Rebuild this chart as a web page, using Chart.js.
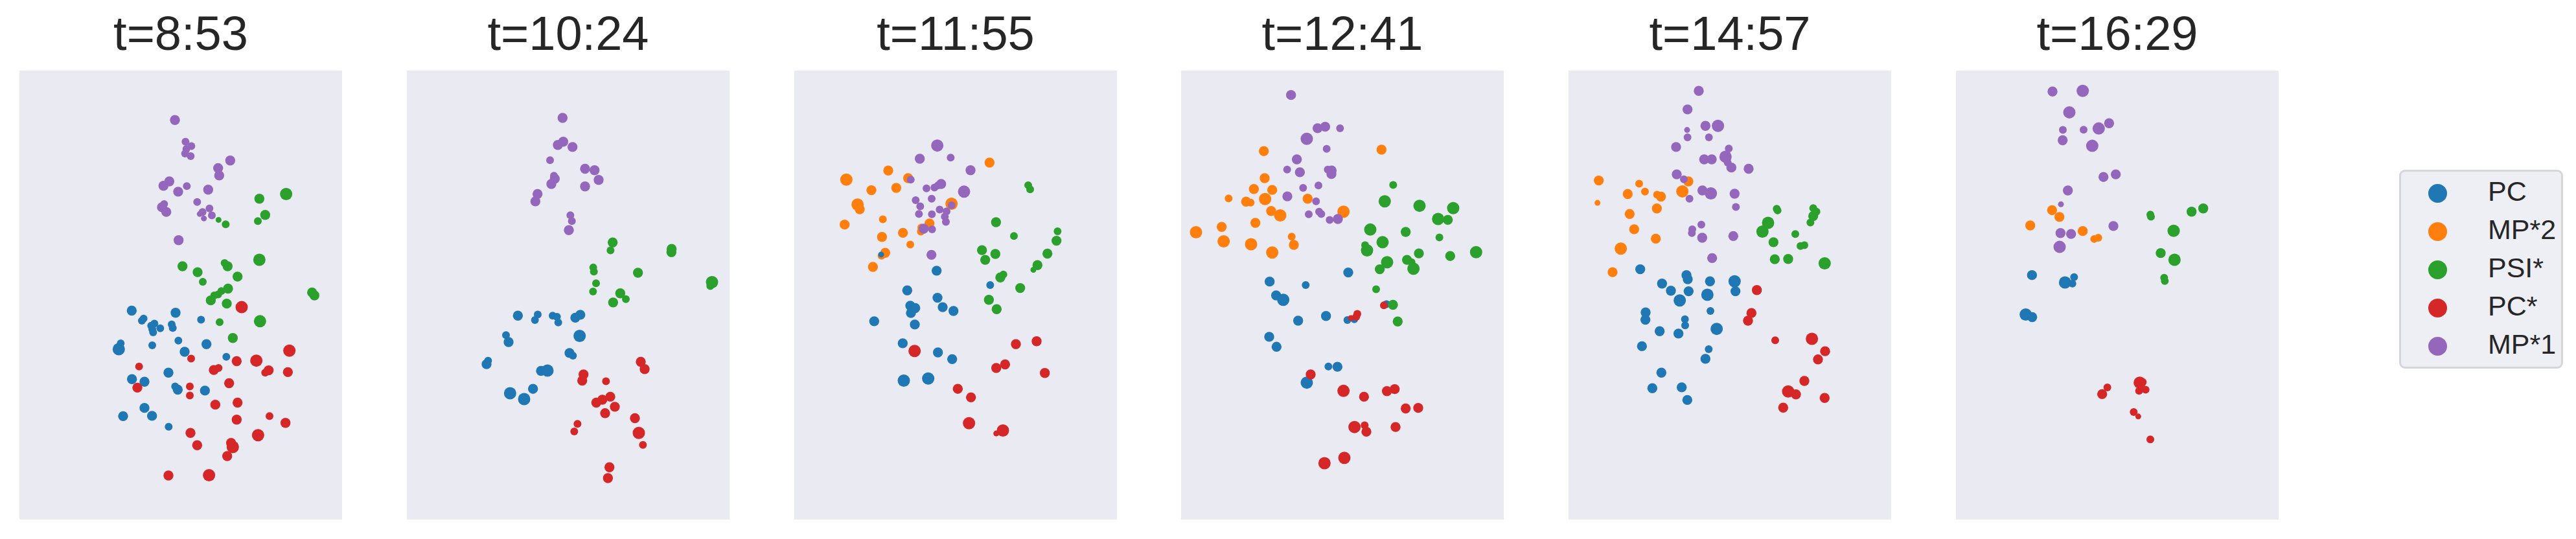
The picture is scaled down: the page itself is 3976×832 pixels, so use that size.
<!DOCTYPE html>
<html>
<head>
<meta charset="utf-8">
<script src="https://cdn.jsdelivr.net/npm/chart.js@4/dist/chart.umd.min.js"></script>
<style>
  html, body { margin: 0; padding: 0; background: #fff; }
  body { width: 3976px; height: 832px; position: relative; overflow: hidden; font-family: "Liberation Sans", Arial, sans-serif; }
  canvas.panel { position: absolute; top: 0; }
  #legend { position: absolute; left: 3703px; top: 262px; width: 247px; height: 301px;
            background: rgba(234, 234, 242, 0.8); border: 3px solid #d6d6d6; border-radius: 9px; }
  .lg-dot { position: absolute; width: 29px; height: 29px; border-radius: 50%; }
  .lg-txt { position: absolute; font-size: 43px; line-height: 43px; color: #262626; white-space: nowrap; }
</style>
</head>
<body>
<div id="legend"></div>
<script>
(() => {
  'use strict';

  // ---- data: embedding coordinates [x, y, weight] ----
  const TIMES = ['t=8:53', 't=10:24', 't=11:55', 't=12:41', 't=14:57', 't=16:29'];
  const SERIES = ['PC', 'MP*2', 'PSI*', 'PC*', 'MP*1'];

  // per-snapshot x extent (y extent is shared)
  const X_LIMITS = [[30, 1524], [39, 1533], [48, 1542], [39, 1533], [48, 1542], [57, 1551]];
  const Y_LIMITS = [20, 1548];

  // t=8:53
  const pc_0853 = [[550,837,3],[753,844,3],[605,864,2],[597,871,2],[871,868,2],[655,881,2],[640,888,2],[735,884,2],[682,897,2],[740,896,2],[645,900,2],[649,911,2],[896,951,3],[766,939,2],[645,955,2],[499,948,2],[490,968,4],[795,977,3],[988,994,2],[720,1048,3],[551,1070,3],[609,1079,3],[751,1095,2],[763,1106,3],[889,1109,3],[609,1168,3],[510,1196,3],[644,1195,3],[721,1232,2]];
  const mp2_0853 = [];
  const psi_0853 = [[1265,440,4],[1141,456,3],[1168,511,3],[1134,532,2],[952,528,1],[985,543,2],[1141,664,4],[980,675,2],[994,686,3],[785,686,3],[855,706,3],[1040,721,3],[879,739,2],[996,762,3],[965,770,2],[950,782,2],[932,785,2],[916,802,3],[990,813,3],[1385,775,3],[1396,785,3],[1144,873,4],[957,876,2],[1018,930,3]];
  const pcs_0853 = [[1059,825,4],[1280,973,4],[1127,1007,4],[1036,1009,3],[825,1000,2],[584,1027,2],[930,1039,3],[952,1032,2],[1168,1048,2],[1184,1040,3],[1273,1046,3],[1001,1084,3],[576,1099,3],[819,1095,2],[819,1126,2],[937,1157,3],[1040,1150,3],[1188,1196,2],[1036,1208,3],[1262,1219,3],[822,1253,3],[1135,1261,4],[853,1295,3],[1010,1287,3],[1018,1301,4],[992,1332,3],[720,1398,3],[908,1397,4]];
  const mp1_0853 = [[750,188,3],[799,262,2],[826,277,2],[803,287,2],[797,302,2],[823,311,2],[1006,326,3],[950,352,3],[955,377,3],[724,397,3],[697,412,3],[765,432,3],[805,413,2],[904,425,3],[853,467,2],[700,474,2],[690,485,3],[710,501,3],[910,489,2],[878,501,2],[865,508,1],[921,513,2],[884,523,1],[767,597,3]];

  // t=10:24
  const pc_1024 = [[553,854,3],[645,850,2],[632,869,2],[714,854,2],[734,858,2],[740,877,2],[842,851,3],[819,861,3],[498,920,2],[510,944,3],[839,923,4],[792,981,3],[808,990,2],[415,1007,2],[408,1019,3],[660,1042,3],[690,1041,4],[623,1103,3],[517,1118,4],[582,1138,4]];
  const mp2_1024 = [];
  const psi_1024 = [[992,605,3],[982,632,2],[1265,627,3],[1264,638,3],[902,690,2],[905,704,2],[1109,708,3],[1452,740,4],[1444,753,2],[915,744,2],[901,772,2],[1027,778,3],[1053,798,2],[994,809,3]];
  const pcs_1024 = [[1122,1011,3],[1140,1036,3],[857,1054,3],[851,1075,3],[961,1077,2],[981,1130,3],[944,1140,3],[916,1150,3],[1002,1164,3],[957,1186,3],[1095,1203,3],[829,1222,2],[814,1248,2],[1113,1253,4],[1132,1294,2],[977,1370,3],[970,1407,3]];
  const mp1_1024 = [[760,181,3],[738,273,3],[763,262,3],[806,280,3],[702,325,2],[864,354,3],[908,359,3],[720,378,2],[724,388,3],[708,406,3],[927,392,3],[864,414,3],[644,440,3],[634,465,3],[796,512,2],[803,532,2],[789,563,3]];

  // t=11:55
  const pc_1155 = [[450,646,1],[707,701,3],[571,768,3],[955,750,2],[711,793,3],[585,820,3],[608,828,3],[588,845,3],[735,825,3],[785,838,3],[418,873,3],[606,884,3],[550,948,3],[713,979,3],[779,1002,3],[555,1075,4],[668,1068,4]];
  const mp2_1155 = [[289,391,4],[483,360,3],[575,386,3],[952,333,3],[405,427,3],[520,419,3],[341,476,4],[351,492,3],[458,526,2],[281,544,3],[776,473,4],[674,540,3],[636,554,2],[634,568,2],[551,572,3],[454,586,3],[585,612,2],[469,640,3],[452,650,2],[412,688,3]];
  const psi_1155 = [[1131,410,2],[1140,424,2],[982,536,3],[1065,583,2],[1267,567,2],[1262,599,3],[917,631,3],[979,644,3],[932,664,3],[1220,643,3],[1174,682,3],[1155,698,1],[1016,714,2],[1002,724,3],[1094,760,3],[949,800,3],[985,832,3]];
  const pcs_1155 = [[605,974,4],[1074,951,3],[1170,941,3],[1024,1020,3],[983,1032,3],[1208,1049,3],[805,1103,3],[866,1132,3],[857,1220,4],[1014,1245,4],[983,1255,1]];
  const mp1_1155 = [[710,275,4],[629,320,3],[772,316,2],[864,359,3],[587,391,2],[728,406,3],[713,411,2],[697,418,2],[660,421,2],[834,432,4],[610,461,2],[684,456,2],[631,482,2],[625,508,2],[776,478,2],[721,493,2],[685,509,2],[753,499,2],[745,517,2],[750,535,2],[647,558,3],[686,560,2],[683,647,3]];

  // t=12:41
  const pc_1241 = [[813,707,3],[449,738,3],[616,750,2],[479,785,3],[512,800,4],[990,815,2],[710,855,3],[581,871,3],[809,869,2],[841,866,2],[447,926,3],[481,960,3],[721,1027,2],[763,1028,3],[621,1082,4]];
  const mp2_1241 = [[422,294,3],[967,289,3],[426,386,3],[376,423,3],[461,426,3],[259,455,2],[340,466,3],[361,469,2],[428,457,4],[625,456,3],[456,498,3],[498,513,4],[791,500,4],[383,538,3],[108,570,4],[227,552,3],[236,601,4],[363,611,4],[551,585,2],[561,613,3],[461,639,4]];
  const psi_1241 = [[1021,409,2],[982,465,4],[1143,480,4],[1299,488,4],[1229,525,4],[1274,528,3],[915,561,4],[1079,569,3],[1235,588,2],[972,604,4],[891,614,2],[900,632,4],[1140,642,3],[1405,638,4],[1285,651,3],[993,672,4],[959,696,3],[1085,664,3],[1106,672,2],[1115,694,4],[942,764,2],[1020,817,3],[1042,874,3]];
  const pcs_1241 = [[978,819,2],[855,848,2],[825,862,1],[850,858,2],[639,1054,3],[791,1110,4],[886,1130,3],[992,1111,3],[1028,1104,3],[1079,1170,3],[1137,1168,3],[842,1233,4],[889,1227,2],[897,1249,3],[1032,1233,3],[795,1338,4],[703,1356,4]];
  const mp1_1241 = [[548,103,3],[671,216,3],[706,211,3],[775,216,2],[621,252,4],[713,286,2],[575,322,3],[530,357,2],[589,366,3],[718,357,2],[736,360,3],[735,372,3],[604,419,2],[675,411,2],[531,448,3],[664,465,2],[630,509,2],[678,500,2],[688,508,2],[727,528,2],[765,525,3]];

  // t=14:57
  const pc_1457 = [[380,696,3],[594,716,3],[600,730,3],[481,745,3],[703,737,3],[817,737,4],[522,769,3],[604,771,3],[821,771,3],[691,783,4],[563,802,4],[705,838,2],[405,843,3],[404,868,3],[587,866,2],[588,887,2],[734,899,4],[470,907,3],[557,915,3],[388,958,3],[697,968,2],[682,1001,3],[478,1048,3],[436,1101,3],[572,1098,3],[598,1141,3]];
  const mp2_1457 = [[188,394,3],[375,405,2],[402,432,2],[322,440,3],[458,442,2],[476,449,3],[603,397,3],[575,431,4],[182,470,1],[457,489,3],[331,508,3],[352,560,3],[452,592,3],[290,626,4],[252,706,3]];
  const psi_1457 = [[1012,490,2],[1016,496,2],[1181,488,2],[1196,500,2],[1181,515,3],[1168,537,2],[972,538,4],[946,568,4],[1098,576,2],[997,604,3],[1122,617,2],[1140,614,2],[1003,662,3],[1065,661,3],[1234,676,4]];
  const pcs_1457 = [[920,767,3],[895,845,3],[879,871,3],[1005,938,2],[1175,933,4],[1236,975,3],[1203,1003,3],[1140,1076,3],[1065,1112,4],[1101,1122,3],[1234,1134,3],[1042,1167,3]];
  const mp1_1457 = [[651,89,3],[599,152,3],[682,208,3],[740,208,4],[597,222,1],[599,247,2],[698,247,2],[546,280,3],[790,285,2],[775,313,4],[676,322,3],[711,322,3],[785,333,2],[802,350,3],[882,354,3],[549,373,3],[582,390,2],[668,428,3],[707,438,4],[817,439,3],[608,456,2],[823,484,2],[663,544,2],[621,560,2],[619,573,2],[667,589,3],[811,583,3],[713,658,3]];

  // t=16:29
  const pc_1629 = [[409,716,3],[562,741,4],[604,723,2],[596,745,2],[380,850,4],[410,859,3]];
  const mp2_1629 = [[502,495,3],[536,518,3],[401,547,3],[644,566,3],[697,593,2],[716,589,2]];
  const psi_1629 = [[957,510,2],[960,517,2],[1148,500,3],[1202,489,3],[1065,565,4],[1005,641,3],[1069,664,4],[1021,725,2],[1024,736,2]];
  const pcs_1629 = [[734,1121,3],[758,1098,2],[908,1082,4],[922,1080,2],[905,1110,2],[935,1106,2],[880,1182,2],[901,1197,1],[957,1275,2]];
  const mp1_1629 = [[504,91,3],[644,89,4],[582,162,4],[766,199,3],[552,222,2],[648,221,2],[718,217,4],[551,257,3],[688,276,4],[740,382,3],[797,373,3],[575,428,3],[543,475,1],[786,549,3],[541,573,3],[590,576,3],[537,620,4]];

  const PANELS = [
    [pc_0853, mp2_0853, psi_0853, pcs_0853, mp1_0853],
    [pc_1024, mp2_1024, psi_1024, pcs_1024, mp1_1024],
    [pc_1155, mp2_1155, psi_1155, pcs_1155, mp1_1155],
    [pc_1241, mp2_1241, psi_1241, pcs_1241, mp1_1241],
    [pc_1457, mp2_1457, psi_1457, pcs_1457, mp1_1457],
    [pc_1629, mp2_1629, psi_1629, pcs_1629, mp1_1629],
  ];

  // ---- styles ----
  const COLORS = ['#1f77b4', '#ff7f0e', '#2ca02c', '#d62728', '#9467bd'];
  const DRAW_ORDER = [4, 5, 3, 2, 1];          // lower = on top
  const RADII = [0, 4.5, 6, 7.7, 9.5];         // by weight class
  const FONT = '"Liberation Sans", Arial, sans-serif';
  const INK = '#262626';
  const PANEL_W = 498, PANEL_H = 802, PANEL_X0 = 30, PANEL_STEP = 597.8;

  const panelBg = {
    id: 'panelBg',
    beforeDraw(chart) {
      const { ctx, chartArea: a } = chart;
      ctx.save();
      ctx.fillStyle = '#eaeaf2';
      ctx.fillRect(a.left, a.top, a.right - a.left, a.bottom - a.top);
      ctx.restore();
    },
  };

  function renderPanel(i) {
    const cv = document.createElement('canvas');
    cv.className = 'panel';
    cv.width = PANEL_W;
    cv.height = PANEL_H;
    cv.style.left = Math.round(PANEL_X0 + i * PANEL_STEP) + 'px';
    document.body.appendChild(cv);

    new Chart(cv, {
      type: 'scatter',
      data: {
        datasets: SERIES.map((name, k) => ({
          label: name,
          data: PANELS[i][k].map(([x, y, w]) => ({ x, y, w })),
          backgroundColor: COLORS[k],
          borderWidth: 0,
          pointRadius: (c) => RADII[c.raw ? c.raw.w : 2],
          order: DRAW_ORDER[k],
        })),
      },
      options: {
        responsive: false,
        animation: false,
        events: [],
        layout: { padding: 0, autoPadding: false },
        plugins: {
          legend: { display: false },
          tooltip: { enabled: false },
          title: {
            display: true,
            text: TIMES[i],
            color: INK,
            font: { family: FONT, size: 74, weight: 'normal', lineHeight: 1.2 },
            padding: { top: 12.6, bottom: 7.6 },
          },
        },
        scales: {
          x: { type: 'linear', display: false, min: X_LIMITS[i][0], max: X_LIMITS[i][1] },
          y: { type: 'linear', display: false, min: Y_LIMITS[0], max: Y_LIMITS[1], reverse: true },
        },
      },
      plugins: [panelBg],
    });
  }

  function renderLegend() {
    const box = document.getElementById('legend');
    const boxL = 3703, boxT = 262;
    box.innerHTML = SERIES.map((name, k) => {
      const cy = 298.3 + 59 * k - boxT - 3;
      const tt = 273.6 + 59 * k - boxT - 3;
      return `<div class="lg-dot" style="left:${3762 - 14.5 - boxL - 3}px;top:${cy - 14.5}px;background:${COLORS[k]}"></div>` +
             `<div class="lg-txt" style="left:${3840 - boxL - 3}px;top:${tt}px">${name}</div>`;
    }).join('');
  }

  TIMES.forEach((_, i) => renderPanel(i));
  renderLegend();
})();
</script>
</body>
</html>
